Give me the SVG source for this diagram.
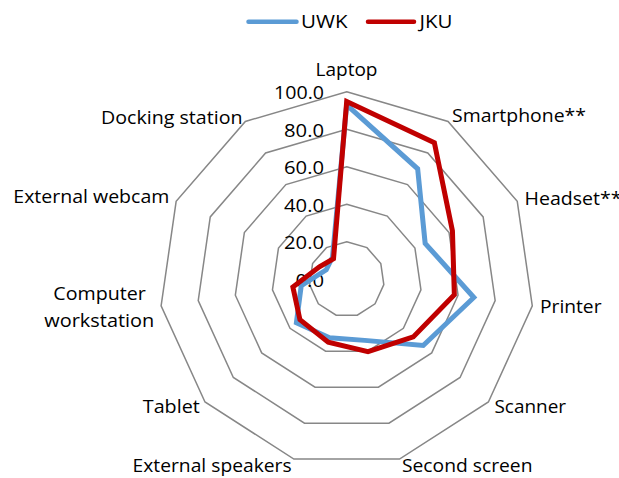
<svg xmlns="http://www.w3.org/2000/svg" width="619" height="478" viewBox="0 0 619 478">
<style>
text{font-family:"Open Sans","Liberation Sans",sans-serif;font-size:18.5px;fill:#000}
.ring{fill:none;stroke:#878787;stroke-width:1.5}
.s{fill:none;stroke-width:5;stroke-linejoin:miter;stroke-miterlimit:10}
.uwk{stroke:#5B9BD5}
.jku{stroke:#C00000}
.tick{text-anchor:end}
</style>
<rect width="619" height="478" fill="#fff"/>
<g id="grid">
<polygon class="ring" points="346.7,241.7 366.97,247.65 380.81,263.62 383.82,284.54 375.04,303.76 357.26,315.18 336.14,315.18 318.36,303.76 309.58,284.54 312.59,263.62 326.43,247.65"/>
<polygon class="ring" points="346.7,204.2 387.25,216.1 414.92,248.04 420.94,289.87 403.38,328.32 367.83,351.16 325.57,351.16 290.02,328.32 272.46,289.87 278.48,248.04 306.15,216.1"/>
<polygon class="ring" points="346.7,166.7 407.52,184.55 449.03,232.47 458.05,295.21 431.72,352.88 378.39,387.14 315.01,387.14 261.68,352.88 235.35,295.21 244.37,232.47 285.88,184.55"/>
<polygon class="ring" points="346.7,129.2 427.79,153 483.14,216.89 495.17,300.55 460.06,377.44 388.96,423.13 304.44,423.13 233.34,377.44 198.23,300.55 210.26,216.89 265.61,153"/>
<polygon class="ring" points="346.7,91.7 448.06,121.46 517.25,201.31 532.29,305.88 488.39,401.99 399.52,459.11 293.88,459.11 205.01,401.99 161.11,305.88 176.15,201.31 245.34,121.46"/>
</g>
<g id="ticks">
<text class="tick" x="324" y="99.2" textLength="50" lengthAdjust="spacingAndGlyphs">100.0</text>
<text class="tick" x="324" y="136.7" textLength="40" lengthAdjust="spacingAndGlyphs">80.0</text>
<text class="tick" x="324" y="174.2" textLength="40" lengthAdjust="spacingAndGlyphs">60.0</text>
<text class="tick" x="324" y="211.7" textLength="40" lengthAdjust="spacingAndGlyphs">40.0</text>
<text class="tick" x="324" y="249.2" textLength="40" lengthAdjust="spacingAndGlyphs">20.0</text>
<text class="tick" x="324" y="286.7" textLength="28.5" lengthAdjust="spacingAndGlyphs">0.0</text>
</g>
<g id="series">
<polygon id="series-uwk" class="s uwk" points="346.7,104.8 417.65,168.78 425.15,243.37 473.83,297.48 423.21,345.51 364.66,340.37 329.53,337.67 296.4,322.79 301.23,285.74 326.23,269.85 332.51,257.12"/>
<polygon id="series-jku" class="s jku" points="346.7,101.6 434.38,142.75 452.44,230.91 454.34,294.68 413.3,336.92 367.99,351.7 328.21,342.17 299.94,319.72 292.88,286.94 319.41,266.74 333.52,258.69"/>
</g>
<g id="labels">
<text id="lbl-laptop" x="315.5" y="76" textLength="62" lengthAdjust="spacingAndGlyphs">Laptop</text>
<text id="lbl-smartphone" x="452" y="121.7" textLength="134" lengthAdjust="spacingAndGlyphs">Smartphone**</text>
<text id="lbl-headset" x="524.5" y="205" textLength="97" lengthAdjust="spacingAndGlyphs">Headset**</text>
<text id="lbl-printer" x="540" y="312.7" textLength="61.5" lengthAdjust="spacingAndGlyphs">Printer</text>
<text id="lbl-scanner" x="494.5" y="412.7" textLength="71.5" lengthAdjust="spacingAndGlyphs">Scanner</text>
<text id="lbl-second" x="402" y="471.7" textLength="130.5" lengthAdjust="spacingAndGlyphs">Second screen</text>
<text id="lbl-speakers" x="132.6" y="471.7" textLength="159" lengthAdjust="spacingAndGlyphs">External speakers</text>
<text id="lbl-tablet" x="142.8" y="412.7" textLength="57" lengthAdjust="spacingAndGlyphs">Tablet</text>
<text id="lbl-computer1" x="53.3" y="300" textLength="92.5" lengthAdjust="spacingAndGlyphs">Computer</text>
<text id="lbl-computer2" x="44.3" y="326.7" textLength="110" lengthAdjust="spacingAndGlyphs">workstation</text>
<text id="lbl-webcam" x="13.3" y="203.3" textLength="156" lengthAdjust="spacingAndGlyphs">External webcam</text>
<text id="lbl-docking" x="101" y="123.7" textLength="141.5" lengthAdjust="spacingAndGlyphs">Docking station</text>
</g>
<g id="legend">
<line x1="248.5" y1="21.7" x2="296.5" y2="21.7" stroke="#5B9BD5" stroke-width="4.5" stroke-linecap="round"/>
<text x="301" y="28.3" textLength="46.5" lengthAdjust="spacingAndGlyphs">UWK</text>
<line x1="368" y1="21.7" x2="414" y2="21.7" stroke="#C00000" stroke-width="4.5" stroke-linecap="round"/>
<text x="419.5" y="28.3" textLength="33" lengthAdjust="spacingAndGlyphs">JKU</text>
</g>
</svg>
